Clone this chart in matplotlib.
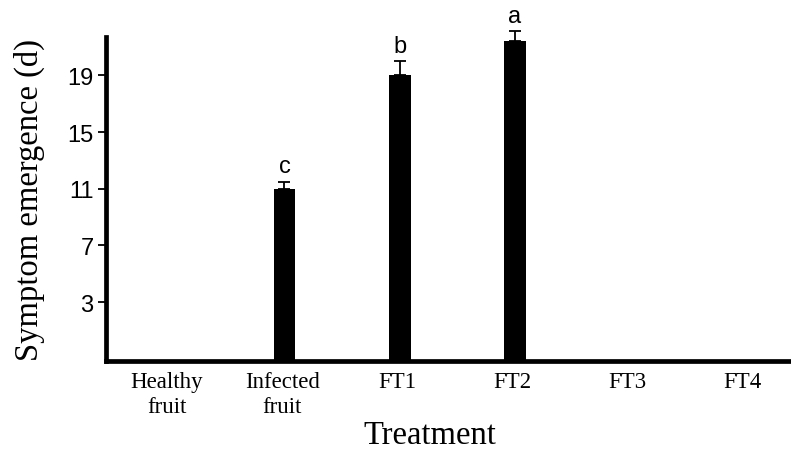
import numpy as np
import matplotlib.pyplot as plt

# data
treatments = ['Healthy\nfruit', 'Infected\nfruit', 'FT1', 'FT2', 'FT3', 'FT4']
days = [0, 11.0, 19.0, 21.4, 0, 0]
err = [0, 0.5, 1.0, 0.7, 0, 0]
letters = ['', 'c', 'b', 'a', '', '']
yticks = [3, 7, 11, 15, 19]

ymin, ymax = -1.15, 21.7

fig = plt.figure(figsize=(7.91, 4.52), dpi=100)
ax = fig.add_axes([106/791, 90/452, 685/791, 324/452])

x = np.arange(len(treatments))
for i in range(len(treatments)):
    if days[i] <= 0:
        continue
    ax.bar(x[i] + 0.02, days[i] - ymin, bottom=ymin, width=0.19, color='black')
    ax.errorbar(x[i] + 0.02, days[i], yerr=[[0], [err[i]]], fmt='none', ecolor='black',
                elinewidth=1.3, capsize=4, capthick=1.3, clip_on=False)
    ax.annotate(letters[i], (x[i] + 0.02, days[i] + err[i]), xytext=(0, 3),
                textcoords='offset points', ha='center', va='bottom',
                fontsize=17, family='Liberation Sans', annotation_clip=False)

ax.set_xlim(-0.53, 5.42)
ax.set_ylim(ymin, ymax)
ax.set_yticks(yticks)
ax.set_yticklabels([str(t) for t in yticks], fontsize=17, family='Liberation Sans')
ax.set_xticks(x)
ax.set_xticklabels(treatments, fontsize=16.5, family='Liberation Serif', linespacing=1.25)
ax.tick_params(axis='y', length=6, width=1.3, pad=3)
ax.tick_params(axis='x', length=0, pad=7)

for s in ['top', 'right']:
    ax.spines[s].set_visible(False)
for s in ['left', 'bottom']:
    ax.spines[s].set_linewidth(3.4)

ax.set_ylabel('Symptom emergence (d)', fontsize=23.5, family='Liberation Serif')
ax.yaxis.set_label_coords(-0.089, 0.5)
ax.set_xlabel('Treatment', fontsize=23.5, family='Liberation Serif')
ax.xaxis.set_label_coords((430 - 106) / 685, -0.18)

fig.savefig('out.png', dpi=100)
